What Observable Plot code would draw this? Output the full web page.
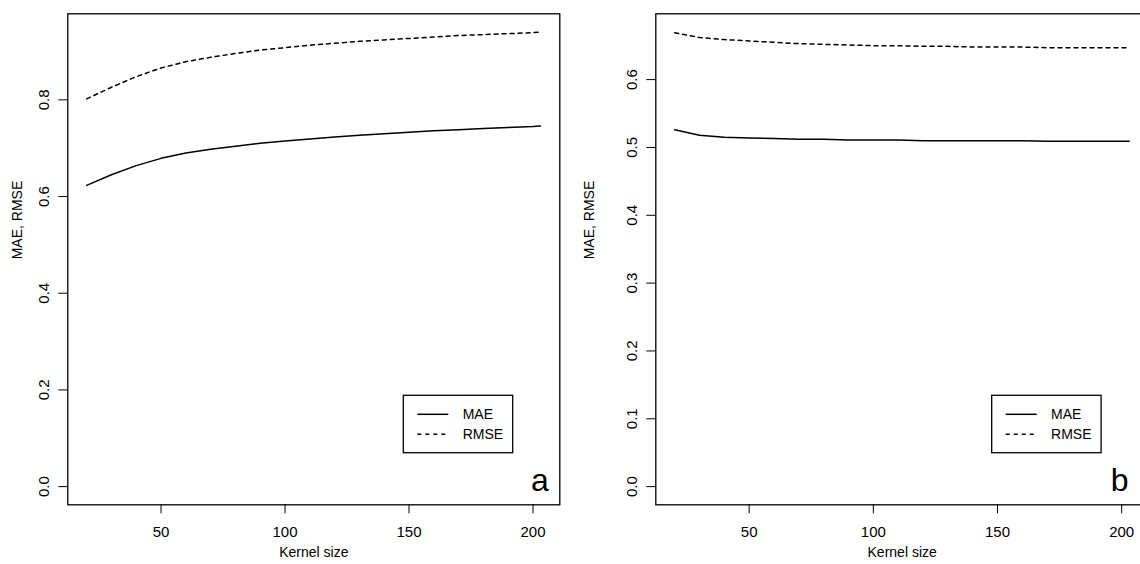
<!DOCTYPE html>
<html><head><meta charset="utf-8">
<script src="https://cdn.jsdelivr.net/npm/d3@7"></script>
<script src="https://cdn.jsdelivr.net/npm/@observablehq/plot@0.6"></script>
<style>
html,body{margin:0;padding:0;background:#fff;overflow:hidden;width:1140px;height:564px}
#wrap{position:relative;width:1140px;height:564px;overflow:hidden;background:#fff}
#wrap > svg{position:absolute;top:0}
</style></head><body><div id="wrap"></div><script>
// ---- data ----
const kernelSize = [20,30,40,50,60,70,80,90,100,110,120,130,140,150,160,170,180,190,200,203];
const maeA  = [0.623,0.645,0.664,0.679,0.690,0.698,0.704,0.710,0.715,0.719,0.723,0.727,0.730,0.733,0.736,0.738,0.741,0.743,0.745,0.746];
const rmseA = [0.802,0.826,0.848,0.866,0.879,0.888,0.896,0.903,0.908,0.913,0.917,0.921,0.924,0.927,0.930,0.933,0.935,0.937,0.939,0.940];
const maeB  = [0.526,0.518,0.515,0.514,0.513,0.512,0.512,0.511,0.511,0.511,0.510,0.510,0.510,0.510,0.510,0.509,0.509,0.509,0.509,0.509];
const rmseB = [0.669,0.662,0.659,0.657,0.655,0.653,0.652,0.651,0.650,0.650,0.649,0.649,0.648,0.648,0.648,0.647,0.647,0.647,0.647,0.647];
const xTicks = [50,100,150,200];
const yTicksA = [0,0.2,0.4,0.6,0.8];
const yTicksB = [0,0.1,0.2,0.3,0.4,0.5,0.6];
const seriesNames = ["MAE","RMSE"];
const panelLetters = ["a","b"];
const xTitle = "Kernel size";
const yTitle = "MAE, RMSE";

const FONT = "'Liberation Sans', Arial, Helvetica, sans-serif";
const fmt = d3.format(".1f");

function panel({mae, rmse, yDomain, yTicks, width, marginLeft, marginRight, letter, letterDx, yTitleDx}) {
  const rows = kernelSize.flatMap((k,i)=>[{k, v: mae[i], s: seriesNames[0]}, {k, v: rmse[i], s: seriesNames[1]}]);
  return Plot.plot({
    width, height: 564, marginLeft, marginRight, marginTop: 13.3, marginBottom: 59.7,
    style: {fontFamily: FONT, fontSize: "14px", background: "transparent", color: "#000", overflow: "visible"},
    x: {domain: [12.4, 210.8]},
    y: {domain: yDomain},
    marks: [
      Plot.line(rows, {filter: d => d.s === seriesNames[0], x: "k", y: "v", stroke: "#000", strokeWidth: 1.5}),
      Plot.line(rows, {filter: d => d.s === seriesNames[1], x: "k", y: "v", stroke: "#000", strokeWidth: 1.5, strokeDasharray: "4,4"}),
      Plot.frame({stroke: "#000", strokeWidth: 1.3}),
      Plot.axisX(xTicks, {tickSize: 9, tickPadding: 13, label: null, stroke: "#000", fill: "#000", fontSize: 15}),
      Plot.axisY(yTicks, {tickSize: 9, tickFormat: () => "", label: null, stroke: "#000"}),
      Plot.text(yTicks, {y: d => d, text: d => fmt(d), frameAnchor: "left", dx: -24, rotate: -90, textAnchor: "middle", lineAnchor: "middle", fill: "#000", fontSize: 15}),
      Plot.text([xTitle], {frameAnchor: "bottom", dy: 48, lineAnchor: "middle", fill: "#000"}),
      Plot.text([yTitle], {frameAnchor: "left", dx: yTitleDx, rotate: -90, lineAnchor: "middle", fill: "#000"}),
      Plot.text([letter], {frameAnchor: "bottom-right", dx: letterDx, dy: -14, fontSize: 32, textAnchor: "end", lineAnchor: "bottom", fill: "#000"})
    ]
  });
}

const wrap = document.getElementById("wrap");
const pA = panel({mae: maeA, rmse: rmseA, yDomain: [-0.0376, 0.978], yTicks: yTicksA, width: 570, marginLeft: 67.3, marginRight: 10.7, letter: panelLetters[0], letterDx: -11, yTitleDx: -50});
pA.style.left = "0px";
wrap.appendChild(pA);
const pB = panel({mae: maeB, rmse: rmseB, yDomain: [-0.0268, 0.697], yTicks: yTicksB, width: 578, marginLeft: 85.3, marginRight: 0, letter: panelLetters[1], letterDx: -20, yTitleDx: -66});
pB.style.left = "570px";
wrap.appendChild(pB);

// legends (layout boxes)
const ov = d3.select(wrap).append("svg").attr("width",1140).attr("height",564).style("left","0px").style("pointer-events","none");
[{x: 403.3, lx: 417.3}, {x: 991.7, lx: 1005.7}].forEach(L => {
  const g = ov.append("g");
  g.append("rect").attr("x", L.x).attr("y", 395.3).attr("width", 109.4).attr("height", 57.4)
    .attr("fill", "#fff").attr("stroke", "#000").attr("stroke-width", 1.3);
  seriesNames.forEach((name, i) => {
    const y = 414.3 + i * 20;
    g.append("line").attr("x1", L.lx).attr("x2", L.lx + 31).attr("y1", y).attr("y2", y)
      .attr("stroke", "#000").attr("stroke-width", 1.5).attr("stroke-dasharray", i ? "4,4" : null);
    g.append("text").attr("x", L.lx + 45.4).attr("y", y).attr("dy", "0.35em")
      .attr("font-family", FONT).attr("font-size", 14).attr("fill", "#000").text(name);
  });
});
</script></body></html>
